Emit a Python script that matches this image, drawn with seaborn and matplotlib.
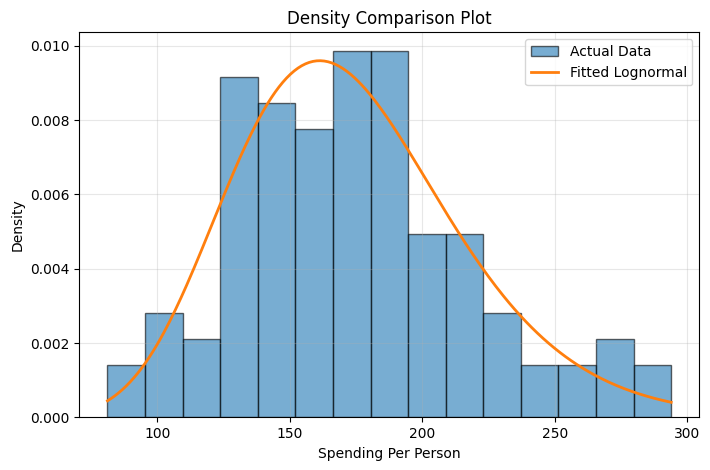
import numpy as np
import pandas as pd
import seaborn as sns
import matplotlib.pyplot as plt

data_min = 81.2
data_max = 293.9
bin_counts = [2, 4, 3, 13, 12, 11, 14, 14, 7, 7, 4, 2, 2, 3, 2]

# lognormal fit parameters (shape, loc, scale) estimated from the curve
ln_shape = 0.196
ln_loc = -46.7
ln_scale = 216.1

edges = np.linspace(data_min, data_max, len(bin_counts) + 1)
df = pd.DataFrame({'spend': (edges[:-1] + edges[1:]) / 2, 'count': bin_counts})


def lognorm_pdf(x, s, loc, scale):
    y = (x - loc) / scale
    return np.exp(-np.log(y) ** 2 / (2 * s ** 2)) / (y * s * np.sqrt(2 * np.pi)) / scale


x_fit = np.linspace(data_min, data_max, 300)
y_fit = lognorm_pdf(x_fit, ln_shape, ln_loc, ln_scale)

fig, ax = plt.subplots(figsize=(7.1, 4.7), dpi=100)
fig.subplots_adjust(left=0.1117, right=0.985, top=0.9313, bottom=0.1121)

sns.histplot(data=df, x='spend', weights='count', bins=len(bin_counts),
             binrange=(data_min, data_max), stat='density', ax=ax,
             color='#1f77b4', alpha=0.6, edgecolor=(0, 0, 0, 0.6), linewidth=1,
             label='Actual Data')
sns.lineplot(x=x_fit, y=y_fit, ax=ax, color='#ff7f0e', linewidth=2,
             label='Fitted Lognormal')

ax.set_title('Density Comparison Plot')
ax.set_xlabel('Spending Per Person')
ax.set_ylabel('Density')
ax.grid(True, alpha=0.3)
handles, labels = ax.get_legend_handles_labels()
ax.legend(handles[::-1], labels[::-1], loc='upper right')

plt.savefig('out.png', dpi=100)
